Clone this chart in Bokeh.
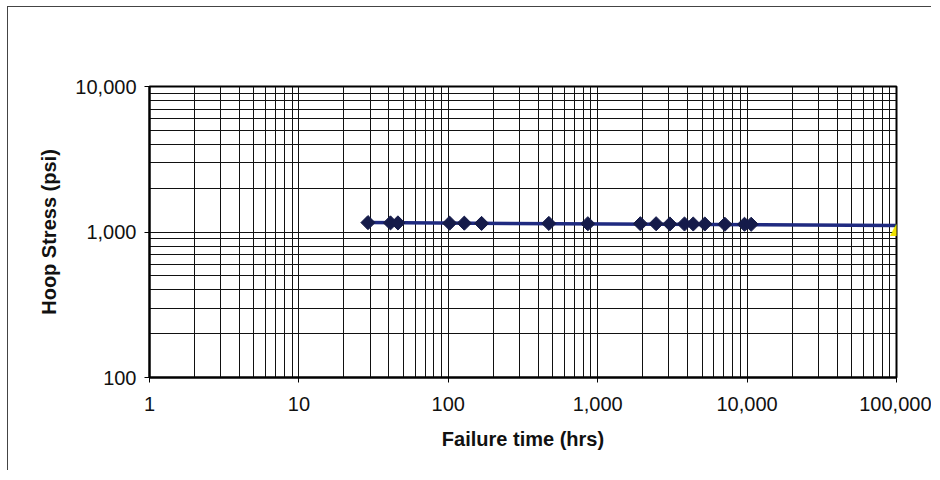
import math
from bokeh.plotting import figure
from bokeh.models import NumeralTickFormatter, Range1d, Label
from bokeh.embed import file_html
from bokeh.resources import INLINE

# ---- data ----
failure_hours = [29, 41, 46, 102, 128, 167, 471, 859, 1930, 2460, 3040,
                 3810, 4360, 5210, 7100, 9610, 10650]
hoop_stress = [1160, 1155, 1155, 1150, 1150, 1145, 1145, 1140, 1140, 1140,
               1135, 1135, 1135, 1135, 1130, 1130, 1130]
fit_hours = [29, 100000]
fit_stress = [1160, 1108]
extrap_hours = [100000]
extrap_stress = [1065]

FONT = "Liberation Sans"

p = figure(width=924, height=464, x_axis_type="log", y_axis_type="log",
           x_range=Range1d(1, 100000), y_range=Range1d(100, 10000),
           output_backend="svg", toolbar_location=None,
           min_border_left=141, min_border_right=36,
           min_border_top=79, min_border_bottom=94)
p.styles = {"margin-left": "7px", "margin-top": "6px",
            "border-left": "1px solid #444", "border-top": "1px solid #444"}

p.background_fill_color = "white"
p.border_fill_color = "white"
p.outline_line_color = "black"
p.outline_line_width = 2

for ax in (p.xaxis[0], p.yaxis[0]):
    ax.formatter = NumeralTickFormatter(format="0,0")
    ax.major_label_text_font = FONT
    ax.major_label_text_font_size = "20px"
    ax.major_label_text_color = "#111"
    ax.axis_label_text_font = FONT
    ax.axis_label_text_font_style = "bold"
    ax.axis_label_text_font_size = "20px"
    ax.axis_label_text_color = "#111"
    ax.axis_line_color = "black"
    ax.axis_line_width = 2
    ax.major_tick_line_color = "black"
    ax.major_tick_out = 5
    ax.major_tick_in = 0
    ax.minor_tick_line_color = None

p.xaxis[0].ticker.num_minor_ticks = 10
p.yaxis[0].ticker.num_minor_ticks = 10
p.xaxis[0].axis_label = "Failure time (hrs)"
p.yaxis[0].axis_label = "Hoop Stress (psi)"
p.xaxis[0].major_label_standoff = 14
p.yaxis[0].major_label_standoff = 8
p.xaxis[0].axis_label_standoff = 14
p.yaxis[0].axis_label_standoff = 12

for g in (p.xgrid[0], p.ygrid[0]):
    g.grid_line_color = "#111"
    g.grid_line_width = 1
    g.minor_grid_line_color = "#111"
    g.minor_grid_line_width = 1

p.line(fit_hours, fit_stress, line_color="#1f2a80", line_width=3.5)
p.scatter(failure_hours, hoop_stress, marker="square", angle=math.pi / 4,
          size=10, fill_color="#151b4a", line_color="#151b4a")
for xh, ys in zip(extrap_hours, extrap_stress):
    p.add_layout(Label(x=xh, y=ys, text="\u25B2", text_color="#f0e000",
                       text_font="DejaVu Sans", text_font_size="16px",
                       text_align="center", text_baseline="middle",
                       level="overlay"))

open("out.html", "w").write(file_html(p, INLINE))
